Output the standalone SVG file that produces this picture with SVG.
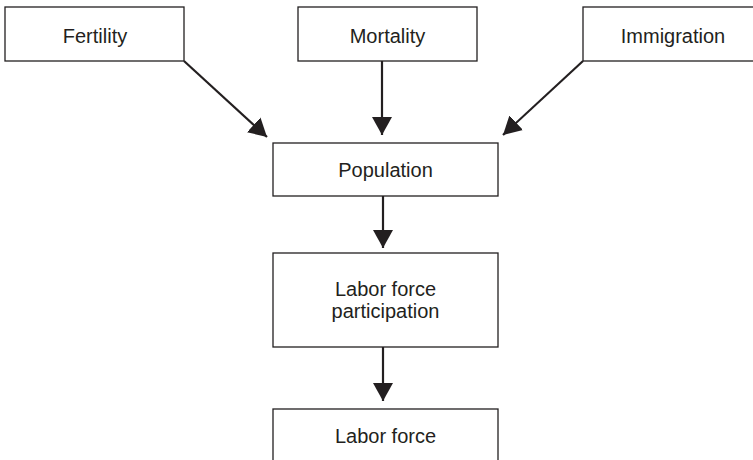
<svg xmlns="http://www.w3.org/2000/svg" width="753" height="460" viewBox="0 0 753 460">
<style>
.box{fill:#fff;stroke:#231f20;stroke-width:1.3}
.t{font-family:"Liberation Sans",Arial,sans-serif;font-size:20px;fill:#231f20;text-anchor:middle}
.c{stroke:#231f20;stroke-width:2.2;fill:none}
</style>
<defs>
<marker id="ah" markerUnits="userSpaceOnUse" viewBox="0 0 18 20" refX="18" refY="10" markerWidth="18" markerHeight="20" orient="auto">
<path d="M0,0 L18,10 L0,20 Z" fill="#231f20"/>
</marker>
</defs>
<rect width="753" height="460" fill="#fff"/>
<g id="fertility"><rect class="box" x="5" y="7" width="179" height="54"/><text class="t" x="95" y="43">Fertility</text></g>
<g id="mortality"><rect class="box" x="298" y="7" width="179" height="54"/><text class="t" x="387.5" y="43">Mortality</text></g>
<g id="immigration"><rect class="box" x="583" y="7" width="190" height="54"/><text class="t" x="673" y="43">Immigration</text></g>
<g id="population"><rect class="box" x="273" y="143" width="225" height="53"/><text class="t" x="385.5" y="177">Population</text></g>
<g id="lfp"><rect class="box" x="273" y="253" width="225" height="94"/><text class="t" x="385.5" y="296">Labor force</text><text class="t" x="385.5" y="318">participation</text></g>
<g id="laborforce"><rect class="box" x="273" y="409" width="225" height="60"/><text class="t" x="385.5" y="443">Labor force</text></g>
<g id="connectors">
<line class="c" x1="184" y1="61" x2="267" y2="137" marker-end="url(#ah)"/>
<line class="c" x1="382" y1="61" x2="382" y2="135" marker-end="url(#ah)"/>
<line class="c" x1="583" y1="61" x2="503" y2="135" marker-end="url(#ah)"/>
<line class="c" x1="383" y1="196" x2="383" y2="248" marker-end="url(#ah)"/>
<line class="c" x1="383" y1="347" x2="383" y2="401" marker-end="url(#ah)"/>
</g>
</svg>
